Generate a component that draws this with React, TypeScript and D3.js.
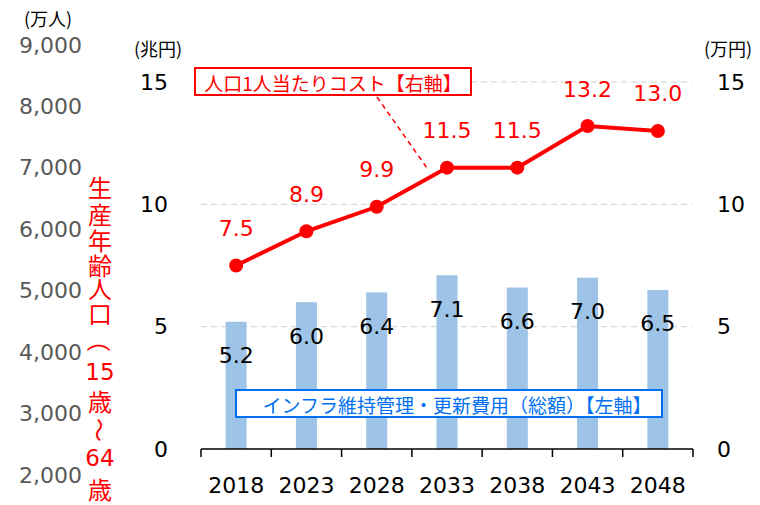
import React from "react";
import * as d3 from "d3";

const years = ["2018", "2023", "2028", "2033", "2038", "2043", "2048"];
const costTotal = [5.2, 6.0, 6.4, 7.1, 6.6, 7.0, 6.5]; // 兆円, left axis
const costPerPerson = [7.5, 8.9, 9.9, 11.5, 11.5, 13.2, 13.0]; // 万円, right axis
const yTicks = [0, 5, 10, 15];
const popTicks = [2000, 3000, 4000, 5000, 6000, 7000, 8000, 9000];
const popTitle = ["生", "産", "年", "齢", "人", "口", "（", "15", "歳", "～", "64", "歳"];

const W = 760;
const H = 505;
const JP = "'Noto Sans CJK JP', sans-serif";
const NUM = "'DejaVu Sans', 'Noto Sans CJK JP', sans-serif";

const App = () => {
  const x = d3.scaleBand().domain(years).range([201, 693]);
  const y = d3.scaleLinear().domain([0, 15]).range([449, 82]);
  const yPop = d3.scaleLinear().domain([2000, 9000]).range([475, 45]);
  const cx = (d: string) => (x(d) as number) + x.bandwidth() / 2;
  const barW = 21;

  const line = d3
    .line<number>()
    .x((_, i) => cx(years[i]))
    .y((d) => y(d));

  // vertical title positions
  const popY = [186, 213, 239, 264, 287, 312, 340, 372, 400, 430, 458, 488];

  return (
    <svg
      width={W}
      height={H}
      style={{ position: "absolute", left: 0, top: 0, background: "#fff" }}
    >
      {/* population axis (no series) */}
      <text x={48} y={18} fontSize={18} fontFamily={JP} textAnchor="middle" dominantBaseline="central">
        (万人)
      </text>
      {popTicks.map((t) => (
        <text
          key={t}
          x={82}
          y={yPop(t)}
          fontSize={22}
          fontFamily={NUM}
          fill="#595959"
          textAnchor="end"
          dominantBaseline="central"
        >
          {d3.format(",")(t)}
        </text>
      ))}
      {popTitle.map((c, i) => (
        <text
          key={i}
          x={100}
          y={popY[i]}
          fontSize={/\d/.test(c) ? 23 : 24}
          fontFamily={/\d/.test(c) ? NUM : JP}
          fill="#ff0000"
          textAnchor="middle"
          dominantBaseline="central"
          transform={c === "（" || c === "～" ? `rotate(90 100 ${popY[i]})` : undefined}
        >
          {c}
        </text>
      ))}

      {/* grid */}
      {yTicks
        .filter((t) => t > 0)
        .map((t) => (
          <line
            key={t}
            x1={201}
            x2={692}
            y1={y(t)}
            y2={y(t)}
            stroke="#d0d0d0"
            strokeDasharray="6 4"
            strokeWidth={1}
          />
        ))}

      {/* axis titles */}
      <text x={158} y={48} fontSize={18} fontFamily={JP} textAnchor="middle" dominantBaseline="central">
        (兆円)
      </text>
      <text x={728} y={48} fontSize={18} fontFamily={JP} textAnchor="middle" dominantBaseline="central">
        (万円)
      </text>

      {/* left and right ticks */}
      {yTicks.map((t) => (
        <g key={t}>
          <text x={168} y={y(t)} fontSize={22} fontFamily={NUM} textAnchor="end" dominantBaseline="central">
            {t}
          </text>
          <text x={717} y={y(t)} fontSize={22} fontFamily={NUM} textAnchor="start" dominantBaseline="central">
            {t}
          </text>
        </g>
      ))}

      {/* bars */}
      {costTotal.map((v, i) => (
        <rect
          key={years[i]}
          x={cx(years[i]) - barW / 2}
          y={y(v)}
          width={barW}
          height={y(0) - y(v)}
          fill="#9dc3e6"
        />
      ))}
      {costTotal.map((v, i) => (
        <text
          key={years[i]}
          x={cx(years[i])}
          y={y(v) + 34}
          fontSize={22}
          fontFamily={NUM}
          textAnchor="middle"
          dominantBaseline="central"
        >
          {v.toFixed(1)}
        </text>
      ))}

      {/* x axis */}
      <line x1={201} x2={693} y1={449} y2={449} stroke="#000" strokeWidth={1.5} />
      {[...years.map((d) => x(d) as number), 693].map((p, i) => (
        <line key={i} x1={p} x2={p} y1={449} y2={457} stroke="#000" strokeWidth={1.5} />
      ))}
      {years.map((d) => (
        <text
          key={d}
          x={cx(d)}
          y={485}
          fontSize={22}
          fontFamily={NUM}
          textAnchor="middle"
          dominantBaseline="central"
        >
          {d}
        </text>
      ))}

      {/* line series */}
      <path d={line(costPerPerson) || ""} fill="none" stroke="#ff0000" strokeWidth={4} />
      {costPerPerson.map((v, i) => (
        <circle key={years[i]} cx={cx(years[i])} cy={y(v)} r={7} fill="#ff0000" />
      ))}
      {costPerPerson.map((v, i) => (
        <text
          key={years[i]}
          x={cx(years[i])}
          y={y(v) - 37}
          fontSize={22}
          fontFamily={NUM}
          fill="#ff0000"
          textAnchor="middle"
          dominantBaseline="central"
        >
          {v.toFixed(1)}
        </text>
      ))}

      {/* red callout */}
      <line x1={377} y1={97} x2={427} y2={168} stroke="#ff0000" strokeWidth={1.5} strokeDasharray="5 4" />
      <rect x={195} y={68} width={276} height={27} fill="#fff" stroke="#ff0000" strokeWidth={2} />
      <text
        x={333}
        y={82}
        fontSize={19}
        fontFamily={JP}
        fill="#ff0000"
        textAnchor="middle"
        dominantBaseline="central"
      >
        人口1人当たりコスト【右軸】
      </text>

      {/* blue callout */}
      <rect x={236} y={390} width={426} height={27} fill="#fff" stroke="#0070f0" strokeWidth={2} />
      <text
        x={457}
        y={404}
        fontSize={19}
        fontFamily={JP}
        fill="#0070f0"
        textAnchor="middle"
        dominantBaseline="central"
      >
        インフラ維持管理・更新費用（総額）【左軸】
      </text>
    </svg>
  );
};

export default App;
